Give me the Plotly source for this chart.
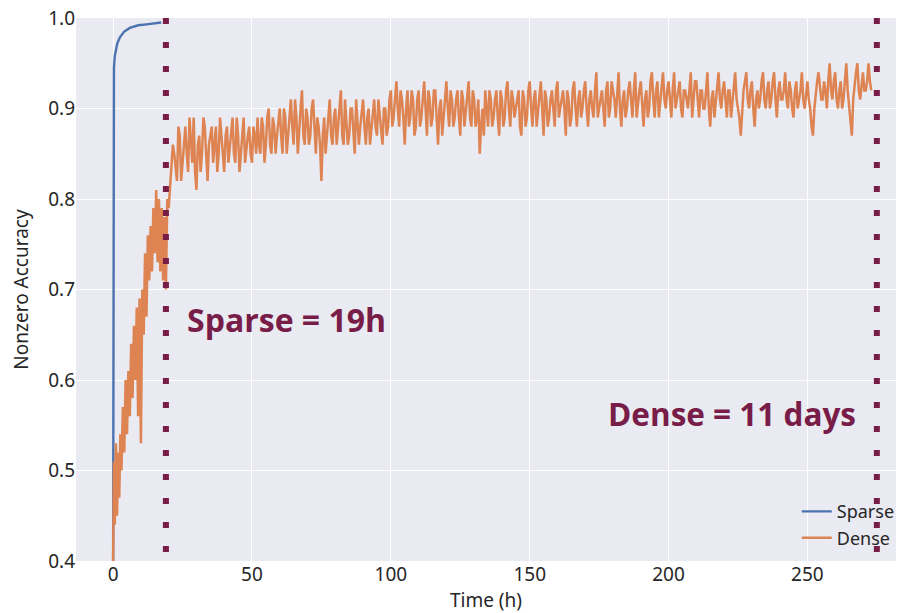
import plotly.graph_objects as go

# ---- data ----
sparse_t = [0, 0.05, 0.1, 0.3, 0.6, 1.0, 1.5, 2.5, 4, 6, 9, 12, 15, 17.3]
sparse_acc = [0.40, 0.88, 0.92, 0.945, 0.958, 0.966, 0.972, 0.979, 0.985, 0.989, 0.992, 0.993, 0.994, 0.995]

dense_early_t = [0, 0.3, 0.6, 1.0, 1.4, 1.8, 2.2, 2.6, 3.0, 3.5, 4.0, 4.5, 5.0, 5.5, 6.0, 6.5,
                 7.0, 7.5, 8.0, 8.5, 9.0, 9.5, 10.0, 10.5, 11.0, 11.5, 12.0, 12.5, 13.0, 13.5,
                 14.0, 14.5, 15.0, 15.5, 16.0, 16.5, 17.0, 17.5, 18.0, 18.5, 19.0, 19.5]
dense_early_acc = [0.40, 0.51, 0.44, 0.53, 0.45, 0.52, 0.47, 0.54, 0.50, 0.57, 0.52, 0.60, 0.54, 0.61,
                   0.56, 0.64, 0.58, 0.66, 0.60, 0.68, 0.56, 0.69, 0.53, 0.70, 0.65, 0.74, 0.67, 0.76,
                   0.71, 0.77, 0.72, 0.79, 0.74, 0.81, 0.73, 0.80, 0.72, 0.79, 0.71, 0.78, 0.70, 0.80]

# readings on the hour, t = 20 h .. 273 h
dense_hour_start = 20
dense_hour_acc = [
    0.79, 0.83, 0.85, 0.82, 0.87, 0.84, 0.88, 0.83, 0.86, 0.89,  # 20-29
    0.81, 0.87, 0.85, 0.88, 0.82, 0.87, 0.84, 0.88, 0.85, 0.87,  # 30-39
    0.83, 0.88, 0.86, 0.89, 0.84, 0.87, 0.85, 0.89, 0.86, 0.88,  # 40-49
    0.84, 0.87, 0.89, 0.85, 0.88, 0.86, 0.90, 0.85, 0.88, 0.87,  # 50-59
    0.90, 0.85, 0.89, 0.87, 0.91, 0.86, 0.89, 0.88, 0.92, 0.86,  # 60-69
    0.89, 0.87, 0.91, 0.85, 0.88, 0.82, 0.89, 0.87, 0.91, 0.86,  # 70-79
    0.90, 0.88, 0.92, 0.86, 0.89, 0.87, 0.90, 0.85, 0.89, 0.88,  # 80-89
    0.91, 0.86, 0.90, 0.88, 0.91, 0.87, 0.89, 0.86, 0.90, 0.88,  # 90-99
    0.92, 0.89, 0.93, 0.88, 0.91, 0.86, 0.92, 0.89, 0.91, 0.88,  # 100-109
    0.92, 0.89, 0.93, 0.87, 0.91, 0.89, 0.92, 0.86, 0.91, 0.89,  # 110-119
    0.93, 0.88, 0.91, 0.89, 0.92, 0.87, 0.91, 0.90, 0.93, 0.88,  # 120-129
    0.91, 0.89, 0.85, 0.90, 0.92, 0.88, 0.91, 0.89, 0.92, 0.87,  # 130-139
    0.91, 0.89, 0.93, 0.88, 0.91, 0.90, 0.92, 0.87, 0.91, 0.89,  # 140-149
    0.93, 0.88, 0.92, 0.90, 0.93, 0.87, 0.91, 0.89, 0.92, 0.88,  # 150-159
    0.93, 0.90, 0.92, 0.87, 0.91, 0.89, 0.93, 0.88, 0.92, 0.90,  # 160-169
    0.93, 0.88, 0.92, 0.89, 0.94, 0.90, 0.92, 0.88, 0.93, 0.90,  # 170-179
    0.92, 0.89, 0.94, 0.88, 0.92, 0.90, 0.93, 0.89, 0.94, 0.91,  # 180-189
    0.93, 0.88, 0.92, 0.90, 0.94, 0.89, 0.93, 0.91, 0.94, 0.90,  # 190-199
    0.93, 0.89, 0.94, 0.91, 0.93, 0.89, 0.92, 0.90, 0.94, 0.91,  # 200-209
    0.93, 0.89, 0.92, 0.90, 0.94, 0.88, 0.92, 0.91, 0.94, 0.90,  # 210-219
    0.93, 0.89, 0.92, 0.91, 0.94, 0.90, 0.87, 0.92, 0.94, 0.90,  # 220-229
    0.93, 0.88, 0.92, 0.91, 0.94, 0.90, 0.93, 0.91, 0.94, 0.89,  # 230-239
    0.93, 0.91, 0.94, 0.90, 0.92, 0.89, 0.93, 0.91, 0.94, 0.90,  # 240-249
    0.93, 0.90, 0.87, 0.92, 0.94, 0.91, 0.93, 0.90, 0.95, 0.91,  # 250-259
    0.94, 0.90, 0.93, 0.91, 0.95, 0.90, 0.87, 0.93, 0.95, 0.91,  # 260-269
    0.94, 0.92, 0.95, 0.92,                                      # 270-273
]
# readings on the half hour, t = 20.5 h .. 272.5 h
dense_half_acc = [
    0.81, 0.86, 0.83, 0.88, 0.82, 0.87, 0.85, 0.89, 0.84, 0.83,  # 20.5-29.5
    0.86, 0.83, 0.89, 0.84, 0.86, 0.88, 0.86, 0.83, 0.89, 0.85,  # 30.5-39.5
    0.87, 0.84, 0.88, 0.85, 0.89, 0.83, 0.88, 0.84, 0.87, 0.85,  # 40.5-49.5
    0.88, 0.85, 0.86, 0.89, 0.84, 0.89, 0.86, 0.89, 0.85, 0.89,  # 50.5-59.5
    0.87, 0.90, 0.85, 0.89, 0.88, 0.91, 0.85, 0.90, 0.87, 0.90,  # 60.5-69.5
    0.86, 0.90, 0.87, 0.89, 0.86, 0.87, 0.85, 0.90, 0.87, 0.89,  # 70.5-79.5
    0.86, 0.89, 0.87, 0.91, 0.86, 0.90, 0.87, 0.91, 0.86, 0.90,  # 80.5-89.5
    0.88, 0.89, 0.86, 0.90, 0.88, 0.91, 0.88, 0.90, 0.87, 0.91,  # 90.5-99.5
    0.88, 0.91, 0.90, 0.92, 0.89, 0.90, 0.88, 0.92, 0.87, 0.91,  # 100.5-109.5
    0.88, 0.91, 0.90, 0.92, 0.88, 0.92, 0.89, 0.90, 0.87, 0.92,  # 110.5-119.5
    0.90, 0.92, 0.88, 0.91, 0.89, 0.92, 0.88, 0.91, 0.89, 0.92,  # 120.5-129.5
    0.88, 0.91, 0.88, 0.87, 0.90, 0.92, 0.88, 0.91, 0.89, 0.92,  # 130.5-139.5
    0.88, 0.92, 0.90, 0.92, 0.89, 0.91, 0.88, 0.92, 0.88, 0.92,  # 140.5-149.5
    0.90, 0.91, 0.88, 0.92, 0.90, 0.92, 0.88, 0.91, 0.90, 0.92,  # 150.5-159.5
    0.89, 0.91, 0.90, 0.92, 0.88, 0.92, 0.90, 0.91, 0.89, 0.92,  # 160.5-169.5
    0.90, 0.91, 0.90, 0.92, 0.89, 0.91, 0.90, 0.92, 0.89, 0.93,  # 170.5-179.5
    0.91, 0.92, 0.90, 0.91, 0.89, 0.92, 0.91, 0.92, 0.89, 0.92,  # 180.5-189.5
    0.90, 0.91, 0.89, 0.93, 0.91, 0.92, 0.89, 0.93, 0.91, 0.92,  # 190.5-199.5
    0.91, 0.92, 0.90, 0.92, 0.90, 0.92, 0.91, 0.92, 0.89, 0.93,  # 200.5-209.5
    0.91, 0.92, 0.90, 0.92, 0.90, 0.91, 0.89, 0.92, 0.91, 0.92,  # 210.5-219.5
    0.91, 0.92, 0.89, 0.93, 0.91, 0.89, 0.90, 0.93, 0.91, 0.92,  # 220.5-229.5
    0.90, 0.91, 0.90, 0.93, 0.91, 0.92, 0.90, 0.93, 0.91, 0.92,  # 230.5-239.5
    0.91, 0.92, 0.91, 0.93, 0.90, 0.92, 0.90, 0.92, 0.91, 0.92,  # 240.5-249.5
    0.91, 0.88, 0.90, 0.93, 0.92, 0.91, 0.92, 0.93, 0.92, 0.93,  # 250.5-259.5
    0.91, 0.92, 0.90, 0.93, 0.92, 0.89, 0.91, 0.94, 0.92, 0.93,  # 260.5-269.5
    0.92, 0.93, 0.93,                                            # 270.5-272.5
]

dense_hour_t = [dense_hour_start + i for i in range(len(dense_hour_acc))]
dense_half_t = [dense_hour_start + 0.5 + i for i in range(len(dense_half_acc))]
late = sorted(zip(dense_hour_t + dense_half_t, dense_hour_acc + dense_half_acc))
dense_t = dense_early_t + [p[0] for p in late]
dense_acc = dense_early_acc + [p[1] for p in late]

sparse_end_h = 19
dense_end_h = 275
y_span = [1.0, 0.4]

x_ticks = [0, 50, 100, 150, 200, 250]
y_ticks = [0.4, 0.5, 0.6, 0.7, 0.8, 0.9, 1.0]

# ---- styling ----
BLUE = "#4C72B0"
ORANGE = "#DD8452"
MAROON = "#781C48"
FONT = "Noto Sans"

fig = go.Figure()
fig.add_trace(go.Scatter(x=sparse_t, y=sparse_acc, mode="lines", name="Sparse",
                         line=dict(color=BLUE, width=2.4)))
fig.add_trace(go.Scatter(x=dense_t, y=dense_acc, mode="lines", name="Dense",
                         line=dict(color=ORANGE, width=2.5)))
for xv in (sparse_end_h, dense_end_h):
    fig.add_trace(go.Scatter(x=[xv, xv], y=y_span, mode="lines", showlegend=False,
                             hoverinfo="skip",
                             line=dict(color=MAROON, width=6, dash="6px,18px")))

fig.add_annotation(x=25.7, y=0.667, text="<b>Sparse = 19h</b>", showarrow=False,
                   xanchor="left", yanchor="middle",
                   font=dict(family="Open Sans", size=32, color=MAROON))
fig.add_annotation(x=177.4, y=0.563, text="<b>Dense = 11 days</b>", showarrow=False,
                   xanchor="left", yanchor="middle",
                   font=dict(family="Open Sans", size=31.5, color=MAROON))

fig.update_layout(
    width=900, height=613,
    margin=dict(l=76, r=0, t=18, b=52),
    paper_bgcolor="white", plot_bgcolor="#EAEAF2",
    font=dict(family=FONT, size=20, color="#262626"),
    legend=dict(x=0.879, y=0.125, xanchor="left", yanchor="top",
                bgcolor="rgba(0,0,0,0)", font=dict(size=18, color="#262626")),
    xaxis=dict(range=[-13.37, 281.9], tickvals=x_ticks, showgrid=True, gridcolor="white",
               gridwidth=1.3, zeroline=False, ticks="", showline=False,
               tickfont=dict(size=19),
               title=dict(text="Time (h)", standoff=2, font=dict(size=19))),
    yaxis=dict(range=[0.4, 1.0], tickvals=y_ticks, tickformat=".1f", showgrid=True,
               gridcolor="white", gridwidth=1.3, zeroline=False, ticks="", showline=False,
               tickfont=dict(size=19),
               title=dict(text="Nonzero Accuracy", standoff=14, font=dict(size=19))),
)

fig.write_html("out.html")
